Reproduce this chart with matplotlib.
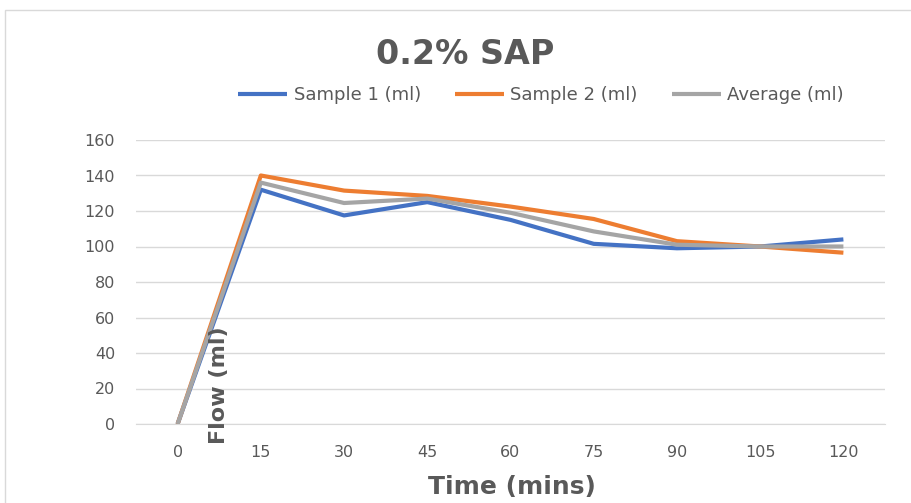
import matplotlib
matplotlib.use("Agg")
import matplotlib.pyplot as plt
from matplotlib.patches import Rectangle

categories = ["0", "15", "30", "45", "60", "75", "90", "105", "120"]
sample1 = [0, 132, 117.5, 125, 115, 101.5, 99, 100, 104]
sample2 = [0, 140, 131.5, 128.5, 122.5, 115.5, 103, 100, 96.5]
average = [0, 136, 124.5, 127, 119, 108.5, 101, 100, 100]
yticks = [0, 20, 40, 60, 80, 100, 120, 140, 160]

plt.rcParams['font.family'] = ['DejaVu Sans']
txt = '#595959'

fig = plt.figure(figsize=(9.12, 5.03), dpi=100)
fig.patches.append(Rectangle((5/912, -0.1), 1.2, 1 - 10/503 + 0.1, transform=fig.transFigure,
                             fill=False, edgecolor='#D9D9D9', linewidth=1.0))
ax = fig.add_axes([136/912, 1 - 424/503, 749/912, 284/503])

x = list(range(len(categories)))
ax.plot(x, sample1, color='#4472C4', lw=3, label='Sample 1 (ml)', solid_capstyle='butt', zorder=3)
ax.plot(x, sample2, color='#ED7D31', lw=3, label='Sample 2 (ml)', solid_capstyle='butt', zorder=3)
ax.plot(x, average, color='#A5A5A5', lw=3, label='Average (ml)', solid_capstyle='butt', zorder=4)

ax.set_xlim(-0.5, len(categories) - 0.5)
ax.set_ylim(0, 160)
ax.set_yticks(yticks)
ax.set_xticks(x)
ax.set_xticklabels(categories)
ax.grid(axis='y', color='#D9D9D9', lw=1)
ax.set_axisbelow(True)
for s in ['top', 'right', 'left']:
    ax.spines[s].set_visible(False)
ax.spines['bottom'].set_color('#D9D9D9')
ax.tick_params(length=0, labelsize=11.5, colors=txt, pad=15)

fig.text(465/912, 1 - 55/503, '0.2% SAP', ha='center', va='center', fontsize=24,
         fontweight='bold', color=txt)
fig.text(512/912, 1 - 487/503, 'Time (mins)', ha='center', va='center', fontsize=18,
         fontweight='bold', color=txt)
fig.text(219/912, 1 - 385/503, 'Flow (ml)', ha='center', va='center', fontsize=16,
         fontweight='bold', color=txt, rotation=90)

leg = fig.legend(loc='center', bbox_to_anchor=(541/912, 1 - 95/503), ncol=3, frameon=False,
                 fontsize=13, handlelength=2.7, columnspacing=1.9, handletextpad=0.35)
for t in leg.get_texts():
    t.set_color(txt)

fig.savefig('out.png', dpi=100)
